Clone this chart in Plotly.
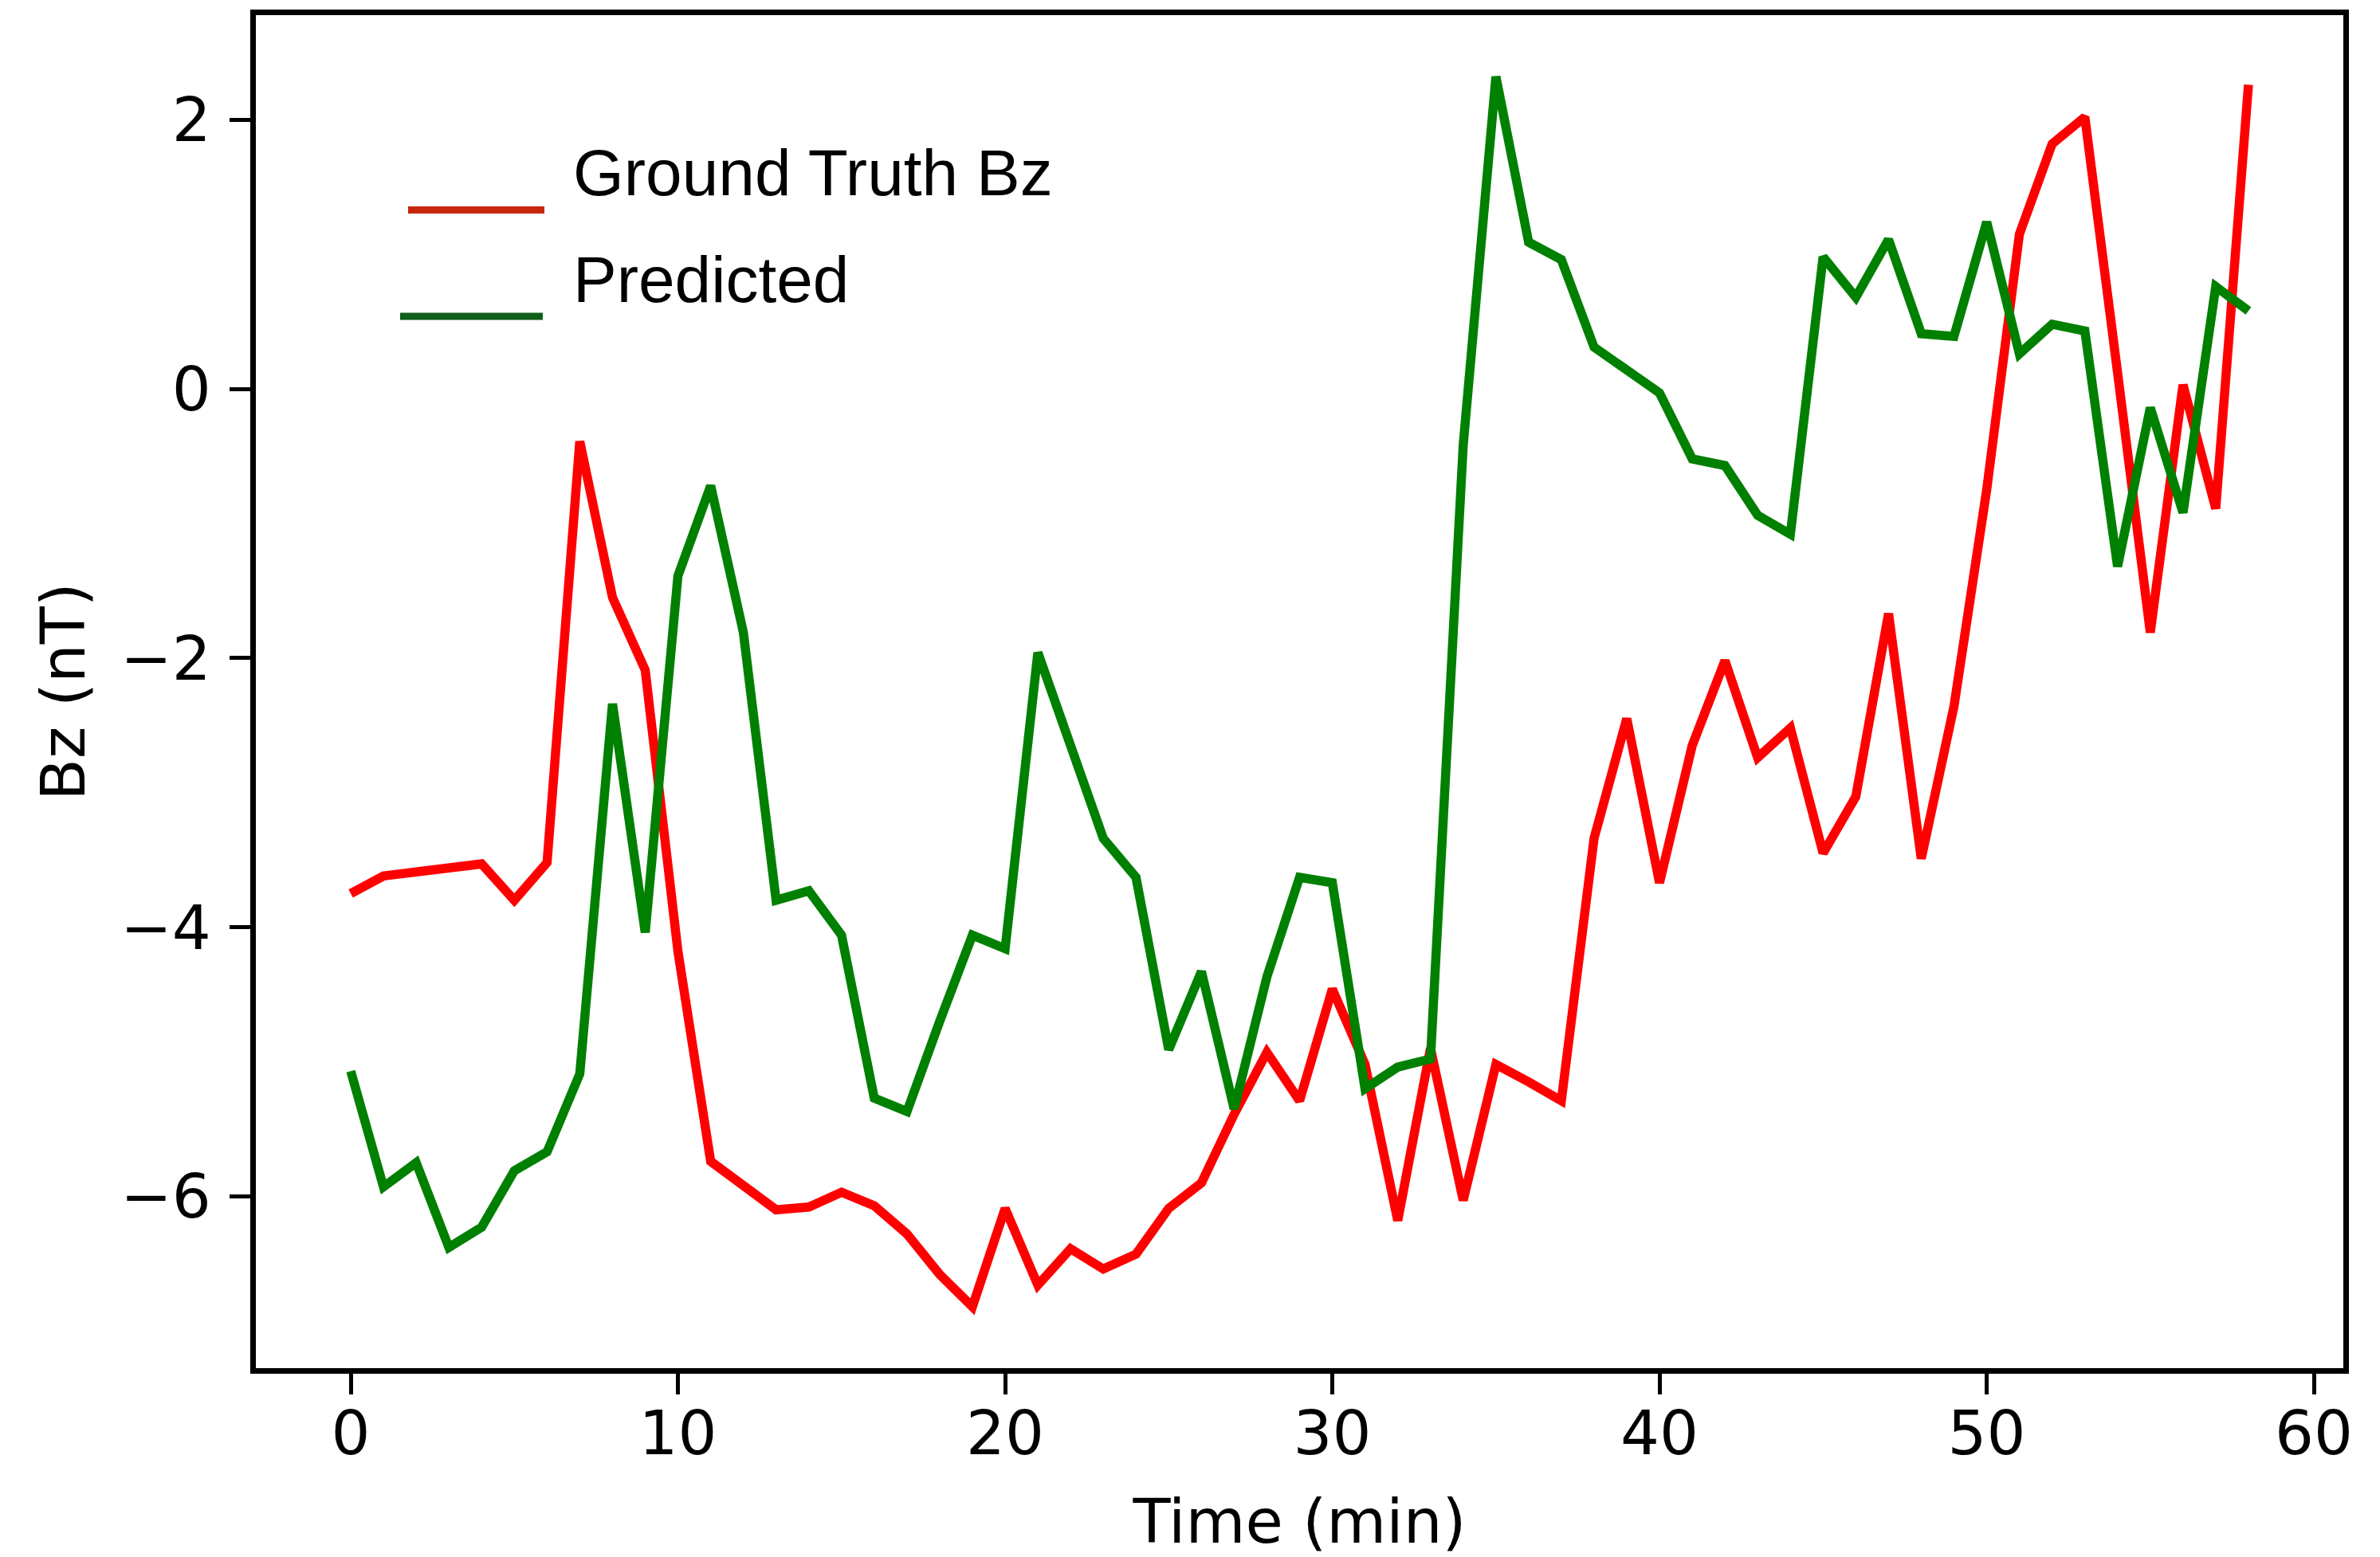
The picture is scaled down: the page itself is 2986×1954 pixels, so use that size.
import plotly.graph_objects as go

# Minute index of each sample
time_min = list(range(59))

# Observed IMF Bz (nT)
ground_truth_bz = [
    -3.75, -3.62, -3.59, -3.56, -3.53, -3.80, -3.52, -0.39, -1.55, -2.09,
    -4.18, -5.74, -5.93, -6.10, -6.08, -5.97, -6.07, -6.28, -6.58, -6.82,
    -6.09, -6.66, -6.39, -6.54, -6.43, -6.09, -5.90, -5.39, -4.93, -5.29,
    -4.46, -5.02, -6.18, -4.90, -6.03, -5.02, -5.15, -5.29, -3.34, -2.45,
    -3.67, -2.65, -2.02, -2.74, -2.52, -3.45, -3.03, -1.67, -3.49, -2.36,
    -0.75, 1.15, 1.82, 2.02, 0.12, -1.81, 0.03, -0.89, 2.26,
]

# Model prediction of Bz (nT)
predicted_bz = [
    -5.07, -5.93, -5.75, -6.38, -6.23, -5.81, -5.67, -5.09, -2.34, -4.04,
    -1.39, -0.72, -1.81, -3.80, -3.73, -4.06, -5.27, -5.37, -4.70, -4.06,
    -4.16, -1.96, -2.65, -3.34, -3.63, -4.91, -4.33, -5.35, -4.37, -3.63,
    -3.67, -5.20, -5.04, -4.98, -0.42, 2.32, 1.09, 0.96, 0.31, 0.14,
    -0.03, -0.52, -0.57, -0.94, -1.08, 0.98, 0.68, 1.11, 0.41, 0.39,
    1.24, 0.26, 0.48, 0.43, -1.32, -0.14, -0.92, 0.76, 0.58,
]

x_ticks = [0, 10, 20, 30, 40, 50, 60]
y_ticks = [-6, -4, -2, 0, 2]
y_tick_text = ["\u22126", "\u22124", "\u22122", "0", "2"]

series_names = ["Ground Truth Bz", "Predicted"]
line_colors = ["#ff0000", "#008000"]
legend_colors = ["#c8270b", "#105e19"]

W, H = 2986, 1954
L, R, T, B = 321, 46, 16, 236

# 5% padding around the data, like a default autoscaled axis
def padded(lo, hi, frac=0.05):
    p = (hi - lo) * frac
    return [lo - p, hi + p]

x_range = padded(min(time_min), max(time_min))
all_y = ground_truth_bz + predicted_bz
y_range = padded(min(all_y), max(all_y))

fig = go.Figure()
for name, ys, col in zip(series_names, [ground_truth_bz, predicted_bz], line_colors):
    fig.add_trace(go.Scatter(
        x=time_min, y=ys, mode="lines", name=name,
        line=dict(color=col, width=11.5),
        showlegend=False,
    ))

tick_font = dict(family="DejaVu Sans", size=77, color="black")

fig.update_layout(
    width=W, height=H,
    margin=dict(l=L, r=R, t=T, b=B, pad=0),
    paper_bgcolor="white", plot_bgcolor="white",
    xaxis=dict(
        range=x_range, tickmode="array", tickvals=x_ticks,
        ticks="outside", ticklen=26, tickwidth=5, tickcolor="black",
        ticklabelstandoff=-17,
        showline=True, mirror=True, linewidth=6.5, linecolor="black",
        showgrid=False, zeroline=False, tickfont=tick_font,
        title=dict(text="Time (min)", font=tick_font, standoff=45),
    ),
    yaxis=dict(
        range=y_range, tickmode="array", tickvals=y_ticks, ticktext=y_tick_text,
        ticks="outside", ticklen=26, tickwidth=5, tickcolor="black",
        ticklabelstandoff=8,
        showline=True, mirror=True, linewidth=6.5, linecolor="black",
        showgrid=False, zeroline=False, tickfont=tick_font,
        title=dict(text="Bz (nT)", font=tick_font, standoff=22),
    ),
)

# Hand-placed legend: colored swatches sit below each label
pw, ph = W - L - R, H - T - B
def px_x(px):
    return (px - L) / pw
def px_y(py):
    return (H - B - py) / ph

swatches = [(512, 683, 261), (502, 681, 395)]
label_pos = [(717, 214), (717, 348)]
for (x0, x1, yy), col in zip(swatches, legend_colors):
    fig.add_shape(type="line", xref="paper", yref="paper",
                  x0=px_x(x0), x1=px_x(x1), y0=px_y(yy), y1=px_y(yy),
                  line=dict(color=col, width=9))
for (lx, ly), name in zip(label_pos, series_names):
    fig.add_annotation(xref="paper", yref="paper", x=px_x(lx), y=px_y(ly),
                       xanchor="left", yanchor="middle", showarrow=False,
                       text=name, font=dict(family="Liberation Sans", size=82, color="black"))

fig.write_html("out.html")
